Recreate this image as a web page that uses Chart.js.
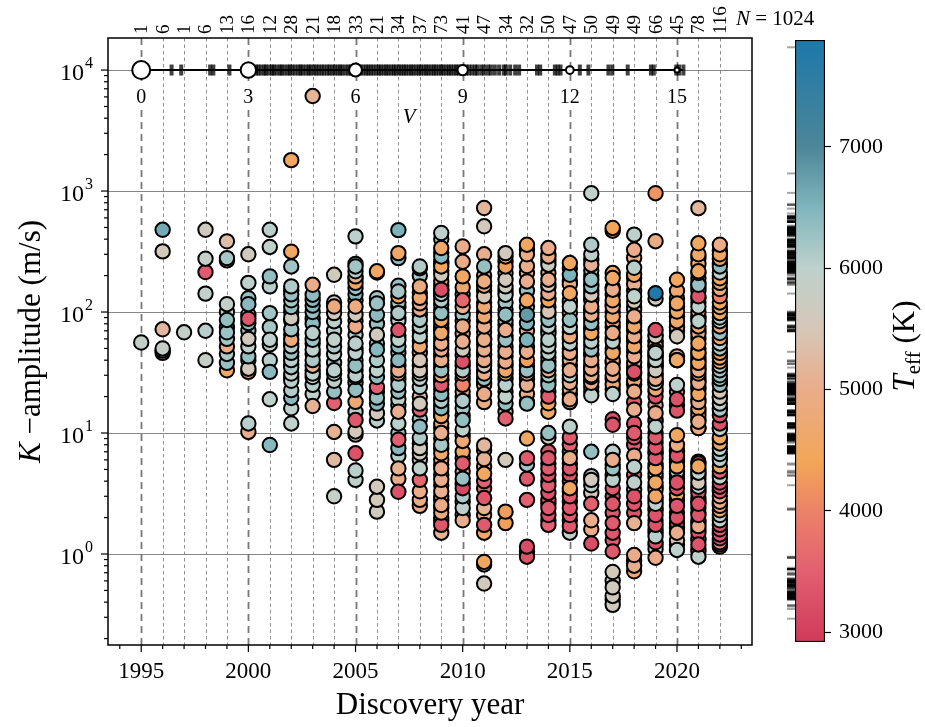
<!DOCTYPE html>
<html>
<head>
<meta charset="utf-8">
<script src="https://cdn.jsdelivr.net/npm/chart.js@4.4.0/dist/chart.umd.min.js"></script>
<style>
  html, body { margin: 0; padding: 0; background: #fff; }
  #wrap { position: relative; width: 925px; height: 727px; }
  #main { position: absolute; left: 0; top: 0; }
  #cbar { position: absolute; left: 760px; top: 0; }
</style>
</head>
<body>
<div id="wrap">
  <canvas id="main" width="925" height="727"></canvas>
  <canvas id="cbar" width="165" height="727"></canvas>
</div>
<script>
const SERIF = '"Liberation Serif", "DejaVu Serif", serif';

// Discovery years and planets per year (top axis counts)
const years = [1995, 1996, 1997, 1998, 1999, 2000, 2001, 2002, 2003, 2004, 2005, 2006, 2007, 2008,
               2009, 2010, 2011, 2012, 2013, 2014, 2015, 2016, 2017, 2018, 2019, 2020, 2021, 2022];
const topCounts = [1, 6, 1, 6, 13, 16, 12, 28, 21, 18, 33, 21, 34, 37, 73, 41, 47, 34, 32, 50, 47, 50, 49, 49, 66, 45, 78, 116];

// K-amplitude (m/s) per discovery year
const kByYear = [
  [56],
  [478, 317, 72, 50, 48, 46],
  [68],
  [478, 276, 214, 142, 70, 40],
  [384, 279, 267, 116, 86, 68, 60, 52, 45, 38, 33, 100, 75],
  [300, 174, 116, 88, 81, 60, 52, 43, 34, 32, 12, 10.2, 70, 95, 40, 130],
  [478, 345, 197, 163, 98, 59, 54, 32, 19, 7.96, 75, 40],
  [1800, 315, 238, 163, 140, 125, 110, 89, 72, 59, 52, 46, 40, 35, 31, 27, 22.6, 19.5, 16, 12, 100, 65, 55, 43, 37, 150, 85, 29],
  [6100, 168, 139, 126, 113, 67, 59, 49, 40, 36, 31, 29, 25, 16.7, 100, 80, 55, 45, 33, 21, 88],
  [203, 111, 98, 84, 59, 52, 33, 31, 27, 22, 17.7, 10.2, 6, 3, 70, 45, 38, 120],
  [422, 238, 217, 197, 174, 158, 111, 95, 76, 55, 46, 36, 30, 29, 22.7, 18.1, 12.8, 10.3, 9.7, 6.8, 4.9, 4.1, 250, 140, 125, 85, 65, 50, 40, 33, 26, 15, 190],
  [217, 212, 118, 95, 65, 49, 40, 33, 29, 24, 19.6, 17.5, 14.6, 12.7, 3.6, 2.8, 2.24, 130, 80, 55, 22],
  [475, 307, 279, 148, 135, 98, 71, 59, 52, 40, 33, 31, 25, 15, 12, 8.8, 7.5, 5.1, 3.27, 165, 120, 110, 85, 64, 46, 36, 28, 22, 19, 17, 10, 6.5, 4.2, 90],
  [238, 230, 163, 131, 118, 105, 86, 76, 63, 52, 40, 33, 31, 28, 17.5, 15.6, 11.3, 9.1, 7.5, 6.8, 5.1, 4.1, 3.3, 2.8, 200, 145, 95, 70, 58, 46, 36, 24, 20, 13, 8.2, 6, 2.5],
  [450, 338, 288, 238, 203, 153, 141, 125, 98, 86, 67, 55, 49, 40, 33, 30, 25, 21, 18.4, 16, 13.8, 10, 8, 6.8, 5.1, 4.1, 3.3, 2.54, 2.2, 1.74,
   400, 310, 260, 220, 180, 165, 135, 115, 105, 92, 80, 74, 62, 58, 52, 45, 43, 37, 35, 28, 23, 19.5, 17, 15, 12, 11, 9, 7.4, 6, 5.5,
   4.5, 3.7, 3, 2.8, 2.4, 2, 1.9, 1.5, 250, 150, 70, 27, 14],
  [348, 197, 125, 76, 57, 49, 39, 33, 31, 25, 18.4, 12.8, 10.7, 8.6, 5.6, 4.2, 3.5, 3.0, 2.4, 1.9, 260, 160, 110, 95, 85, 66, 44, 36, 28, 22, 16, 14, 9.5, 7, 6.2, 4.8, 3.8, 2.7, 2.1, 140, 20],
  [724, 511, 238, 179, 165, 135, 111, 92, 76, 59, 49, 40, 36, 31, 21, 7.9, 6.1, 4.6, 4.0, 2.9, 2.4, 1.74, 0.86, 0.82, 0.57, 200, 150, 120, 100, 84, 68, 54, 44, 33, 28, 25, 18, 45, 38, 26, 7.2, 5.3, 3.5, 2.1, 1.5, 300, 60],
  [307, 288, 238, 185, 163, 139, 95, 71, 59, 47, 39, 33, 31, 25, 20, 17.5, 13.2, 6.0, 2.24, 1.8, 260, 210, 150, 120, 105, 85, 78, 64, 52, 43, 36, 28, 22, 15],
  [360, 300, 179, 125, 95, 81, 59, 47, 40, 33, 31, 25, 17.5, 9, 6.2, 5.5, 4.2, 2.8, 1.15, 0.95, 330, 240, 210, 150, 110, 70, 52, 36, 28, 21, 18, 1.05],
  [338, 288, 246, 185, 168, 143, 125, 101, 86, 76, 59, 52, 46, 36, 33, 30, 25, 20, 17.6, 15, 10, 9.2, 6.2, 5.1, 4.5, 3.7, 3.2, 2.4, 2.1, 1.74,
   300, 210, 160, 110, 95, 66, 55, 42, 39, 27, 22, 7, 5.6, 4, 2.8, 2.6, 1.9, 265, 130, 70],
  [254, 203, 143, 111, 86, 75, 63, 55, 46, 33, 30, 26, 19, 11.3, 9.2, 6.2, 5.1, 3.5, 3.0, 2.4, 2.1, 1.7, 1.5, 230, 170, 125, 98, 68, 50, 40, 36, 23, 18, 8, 7, 4.5, 4, 2.7, 1.9, 180, 120, 60, 43, 28, 21, 5.6, 3.3],
  [960, 360, 300, 246, 185, 163, 139, 111, 95, 81, 67, 57, 49, 40, 34, 30, 29, 26, 20.5, 7, 4.1, 3.7, 2.6, 1.9, 1.22, 270, 220, 200, 150, 125, 105, 88, 75, 62, 53, 45, 37, 32, 24, 22, 170, 130, 100, 72, 44, 35, 27, 3.2, 1.6, 4.4],
  [495, 191, 153, 125, 111, 92, 67, 57, 46, 34, 30, 21, 11.7, 6, 5.1, 4.1, 3.5, 2.6, 1.8, 1.5, 1.05, 0.71, 0.53, 0.45, 0.38, 470, 160, 140, 100, 82, 75, 60, 50, 40, 25, 23, 13, 7, 5.5, 4.5, 3.0, 2.2, 1.3, 0.6, 0.42, 210, 115, 38, 28],
  [436, 327, 232, 203, 135, 122, 92, 76, 63, 52, 43, 32, 31, 22, 15.6, 10, 9.2, 5.25, 3.9, 3.0, 2.6, 1.8, 0.98, 0.8, 0.72, 280, 170, 150, 105, 85, 70, 57, 47, 38, 27, 18, 12, 6.5, 4.5, 3.4, 2.2, 190, 110, 80, 60, 35, 25, 8, 0.88],
  [960, 385, 143, 129, 71, 63, 46, 40, 33, 28, 26, 14.6, 11.3, 9.2, 7.6, 6.2, 5.1, 3.9, 3.0, 2.6, 2.1, 1.74, 1.4, 0.93, 48, 53, 44, 38, 31, 36,
   57, 58, 52, 44, 37, 30, 23, 20, 17, 12.5, 10, 8.3, 6.8, 5.6, 4.6, 4.3, 3.4, 2.8, 2.3, 1.9, 1.6, 1.25, 1.1, 65, 42, 35, 27, 13, 7, 5.3, 3.6, 2.4, 1.5, 1.2, 25, 22],
  [185, 118, 101, 84, 63, 40, 25, 19, 15.3, 9.6, 8, 6.5, 5.3, 3.9, 2.5, 2.0, 1.5, 1.08, 1.3, 150, 130, 92, 75, 75, 92, 40, 4.8, 22, 17, 7, 6, 7.2, 5.8, 4.6, 3.5, 3.1, 2.8, 2.2, 1.8, 1.65, 1.2, 110, 70, 43, 4.2],
  [722, 370, 217, 210, 168, 135, 111, 84, 55, 46, 38, 33, 31, 26, 21, 18, 12.4, 5.3, 4.7, 3.9, 3.6, 2.6, 2.1, 1.7, 1.2, 0.95, 300, 250, 190, 150,
   120, 100, 92, 76, 66, 60, 50, 42, 36, 29, 24, 16, 14, 11, 13, 5.6, 5.8, 4.2, 3.2, 2.9, 2.4, 1.9, 1.5, 1.35, 1.05, 280, 160, 130, 70, 45,
   34, 27, 19, 11, 15, 4.5, 5, 3.4, 2.2, 1.8, 1.3, 1.1, 175, 88, 40, 23, 2.7, 1.6],
  [360, 300, 275, 238, 212, 190, 174, 155, 135, 120, 110, 98, 90, 84, 76, 67, 61, 55, 50, 46, 42, 39, 36, 33, 30, 28, 25, 22, 19.5, 17.5,
   15.6, 14, 12, 10.8, 9.2, 8.2, 7.4, 6.7, 6, 5.3, 4.8, 4.3, 3.9, 3.6, 3.3, 3.0, 2.7, 2.5, 2.3, 2.1, 1.9, 1.74, 1.6, 1.45, 1.35, 1.25, 1.2, 1.15,
   320, 250, 200, 145, 105, 80, 58, 44, 34, 26, 20, 16, 11, 8.8, 6.4, 4.5, 3.4, 2.6, 2.0, 1.5, 1.3, 70]
];

// Host star effective temperature (K), same order as kByYear
const teffByYear = [
  [5920],
  [6620, 5580, 5230, 5870, 5950, 5900],
  [5910],
  [5620, 5880, 3420, 5940, 6030, 5860],
  [5310, 6180, 6120, 5890, 6330, 6270, 6210, 4920, 6150, 6290, 4610, 6020, 6240],
  [5640, 6010, 6420, 3380, 6380, 5590, 5990, 6310, 5570, 4720, 6040, 5020, 6260, 5970, 5610, 6330],
  [6020, 5960, 6340, 6050, 6230, 5990, 6010, 6410, 5980, 6430, 6190, 6060],
  [4480, 4520, 6230, 6120, 6310, 6180, 6340, 5620, 6210, 4810, 6090, 6280, 6030, 6170, 5960, 6040, 6110, 6420, 5990, 6010, 5580, 6330, 6020, 6130, 6290, 5910, 6050, 6190],
  [5130, 5010, 6380, 6420, 6450, 6030, 6270, 5990, 6140, 5090, 6010, 5970, 6060, 5120, 6310, 6390, 6220, 6330, 6080, 6000, 6040],
  [5630, 4830, 5570, 6020, 5980, 6130, 6040, 5990, 6010, 6320, 3480, 5110, 5240, 5880, 6050, 5910, 6210, 5520],
  [6010, 6230, 6090, 5120, 4510, 6290, 4880, 5610, 4930, 6030, 5990, 6320, 6040, 6280, 6350, 4720, 3380, 5530, 5490, 3290, 6020, 5970, 6310, 6410, 5920, 6330, 6010, 6140, 5880, 6230, 6270, 6050, 5040],
  [4490, 6420, 6280, 6390, 5620, 6430, 6120, 5980, 6380, 3520, 6310, 6410, 5590, 6030, 5610, 5580, 5640, 6180, 6290, 6130, 5990],
  [6530, 4620, 6410, 6190, 4480, 6120, 3310, 5990, 6380, 6420, 5010, 4980, 6130, 5030, 6020, 3490, 6430, 5110, 3280, 6290, 6210, 6390, 5960, 6320, 6080, 6230, 6010, 6310, 5970, 6170, 6270, 6040, 4990, 6330],
  [6110, 6410, 4890, 4620, 5010, 4970, 6130, 6080, 6010, 4720, 5480, 5520, 5610, 6030, 5570, 3520, 6380, 6120, 5630, 5590, 5980, 3610, 5020, 4910, 6190, 5040, 6310, 5990, 6220, 5110, 4960, 6050, 5210, 6140, 5030, 6080, 4980],
  [6010, 4620, 6420, 4490, 5610, 3220, 6110, 6080, 6330, 4580, 4630, 5030, 4980, 5010, 6290, 4610, 3410, 6380, 6120, 6410, 4590, 5040, 6180, 4640, 4990, 5020, 5060, 4970, 4920, 3380,
   6130, 5010, 6310, 5120, 4570, 6090, 4960, 6340, 5520, 6220, 4910, 6280, 5030, 6140, 4690, 6330, 4990, 6190, 4930, 5480, 6240, 5020, 4710, 6270, 4980, 6020, 4790, 6320, 5050, 4560,
   6210, 4970, 4890, 6110, 5040, 5010, 4820, 5130, 6290, 4680, 4940, 6060, 5070],
  [5020, 4490, 3620, 4980, 5040, 5610, 3280, 6090, 4960, 4010, 6120, 6330, 5980, 4720, 3420, 6290, 3110, 6130, 6010, 5030, 4970, 4620, 5060, 6220, 4680, 4990, 6280, 5010, 6030, 5120, 6190, 4950, 5990, 4590, 6310, 5040, 6120, 4880, 6040, 6090, 4810],
  [5180, 5590, 6320, 4910, 5030, 5480, 4710, 4690, 4990, 5020, 5040, 4970, 5520, 5010, 4980, 5230, 5090, 4520, 3520, 3380, 5120, 3410, 4480, 5030, 5610, 4960, 6190, 5020, 4810, 5110, 6110, 4990, 4720, 5040, 6290, 4970, 4890, 6020, 5010, 5090, 4780, 5030, 3620, 4960, 4610, 5050, 6230],
  [5610, 4880, 4310, 5590, 5620, 6010, 6330, 4990, 6280, 5030, 4970, 4620, 4510, 6040, 5980, 6310, 3520, 5580, 4290, 4330, 5010, 6030, 4920, 6190, 5040, 6280, 4830, 5990, 4910, 6220, 4980, 6120, 6310, 6010],
  [4510, 4880, 5020, 4490, 6780, 6490, 6520, 5010, 4320, 6290, 4990, 5030, 6310, 4520, 3410, 6210, 3380, 3520, 3190, 3310, 4620, 4980, 4910, 6290, 6180, 5020, 6330, 4790, 6110, 5010, 6280, 3280],
  [5010, 4980, 5790, 5030, 5510, 4970, 4520, 5480, 6310, 5990, 6040, 5970, 6020, 6290, 5010, 6180, 6330, 3420, 4510, 4590, 6280, 5620, 3380, 3410, 3290, 3440, 3310, 3390, 3270, 3520,
   4630, 4910, 4990, 6120, 4810, 6090, 5020, 4880, 6210, 6320, 6190, 3310, 3480, 3420, 3280, 3610, 3370, 4920, 6230, 5040],
  [4490, 6520, 4530, 6010, 6290, 5980, 4810, 6030, 4990, 5020, 5980, 5040, 4960, 6020, 3420, 5010, 3380, 4480, 3410, 3350, 3440, 3390, 5910, 4620, 4980, 6190, 4710, 6310, 4910, 5030, 6120, 4970, 4880, 3520, 3410, 3290, 3510, 3380, 3470, 6380, 4590, 5020, 6230, 4790, 4990, 3530, 4520],
  [5990, 6120, 6010, 5090, 6310, 6280, 5480, 4990, 5030, 6320, 4510, 6020, 6290, 4980, 5010, 5040, 4970, 5020, 5990, 6330, 5590, 6040, 3520, 4990, 3210, 6180, 6290, 5010, 6110, 4810, 6320, 4990, 6130, 4690, 6010, 6190, 4980, 6030, 4880, 5030, 6390, 5110, 4710, 6090, 4960, 6210, 4820, 5510, 4980, 6120],
  [4380, 4610, 4990, 4590, 5020, 4620, 4980, 6010, 4580, 5010, 4970, 5990, 3310, 5020, 6280, 6030, 3410, 3380, 3420, 3360, 3390, 5580, 5620, 5590, 5610, 4290, 4690, 5030, 4610, 4980, 4810, 5020, 4590, 4990, 4710, 5040, 3280, 6010, 3320, 3430, 3290, 3340, 3410, 5570, 5630, 4680, 5010, 4820, 4970],
  [6010, 4990, 6030, 4390, 5980, 5510, 5020, 4590, 4980, 4620, 5010, 3280, 3330, 4990, 5040, 3420, 3380, 6020, 5970, 3290, 3340, 5110, 4980, 5020, 4690, 4910, 5030, 4610, 6110, 4790, 4990, 6180, 4880, 5010, 4620, 3410, 3310, 4970, 3390, 6040, 3270, 4820, 5990, 5020, 4910, 4990, 4710, 3430, 4790],
  [4210, 4890, 7820, 5610, 3220, 5590, 6010, 5980, 5620, 5010, 5580, 4990, 6020, 3410, 3380, 3420, 4510, 4480, 4530, 5990, 3310, 3290, 6030, 4990, 5020, 4710, 4490, 4910, 4590, 5010,
   6110, 4890, 3420, 6010, 5090, 3380, 4690, 3310, 4980, 3440, 3270, 4620, 3390, 3320, 5980, 3410, 4530, 3280, 3360, 6020, 3430, 3310, 5990, 4610, 4990, 3330, 6040, 3390, 3420, 4480, 3290, 6010, 3370, 5020, 4520, 4970],
  [4490, 4610, 4580, 4630, 5610, 4590, 5990, 3290, 3320, 4510, 4990, 3310, 4480, 3280, 3330, 3270, 5010, 5990, 5490, 4710, 4590, 4520, 4790, 4610, 4690, 4910, 6080, 4620, 3410, 3290, 4530, 3380, 4610, 3320, 3290, 4490, 3420, 3310, 3380, 4990, 3390, 4630, 4470, 4880, 3300],
  [5210, 4490, 4520, 6010, 6290, 3310, 5990, 6020, 4510, 4480, 4530, 4990, 4470, 5020, 4510, 4980, 5010, 4490, 5990, 5510, 6030, 3290, 3330, 4990, 3310, 5980, 4610, 4890, 4590, 6210,
   4990, 4710, 6080, 4520, 5010, 4590, 4820, 4980, 6190, 4610, 5020, 4580, 4970, 4910, 4690, 3420, 3290, 5010, 3320, 6010, 3380, 4790, 3310, 6020, 3410, 4920, 4610, 4990, 6310, 4720,
   5010, 4630, 4790, 4990, 4520, 5030, 3430, 5990, 3290, 3370, 6040, 3310, 4490, 6220, 4590, 4980, 5490, 3390],
  [4990, 4510, 4490, 6380, 6010, 4590, 4520, 4810, 4010, 4480, 4610, 4530, 6090, 5990, 4710, 6290, 4510, 6010, 6190, 4490, 4620, 4980, 6030, 6210, 6320, 6280, 6340, 5490, 5610, 5990,
   6180, 3310, 3280, 6020, 4520, 4590, 5980, 6110, 6030, 4490, 3520, 5990, 3290, 3330, 3410, 5010, 4990, 4510, 4530, 6010, 5970, 3290, 3420, 3310, 3280, 4020, 3390, 4980,
   4610, 4690, 6210, 4790, 6310, 4580, 6190, 4510, 6090, 5020, 6290, 5990, 3380, 4620, 3270, 4710, 3410, 4810, 3320, 6120, 3360, 6020]
];

// V magnitude inset: reference marks and rug of host star magnitudes
const vTicks = [0, 3, 6, 9, 12, 15];
const vRug = [0.85, 1.12, 1.93, 2.02, 2.47, 3.22, 3.28, 3.36, 3.45, 3.49, 3.58, 3.66, 3.71, 3.79, 3.88, 3.93, 4.01, 4.1, 4.16, 4.23,
  4.31, 4.4, 4.46, 4.52, 4.61, 4.69, 4.74, 4.83, 4.9, 4.97, 5.05, 5.12, 5.21, 5.27, 5.35, 5.42, 5.5, 5.57, 5.63, 5.72,
  5.8, 5.86, 5.93, 6.01, 6.08, 6.14, 6.22, 6.3, 6.36, 6.43, 6.5, 6.58, 6.65, 6.71, 6.79, 6.86, 6.92, 7.0, 7.07, 7.13,
  7.21, 7.28, 7.35, 7.41, 7.49, 7.56, 7.62, 7.7, 7.77, 7.83, 7.91, 7.98, 8.04, 8.12, 8.19, 8.25, 8.33, 8.4, 8.46, 8.54,
  8.61, 8.67, 8.75, 8.82, 8.88, 8.96, 9.03, 9.1, 9.17, 9.26, 9.35, 9.41, 9.52, 9.6, 9.71, 9.79, 9.9, 10.02, 10.15, 10.21,
  10.33, 10.47, 10.58, 11.08, 11.17, 11.58, 11.66, 11.74, 12.28, 12.52, 13.08, 13.19, 13.62, 14.27, 14.35, 14.98, 15.06, 15.18];

// colour bar range and ticks
const cbRange = [2918, 7880];
const cbTicks = [3000, 4000, 5000, 6000, 7000];

// colormap stops (Teff -> rgb)
const cmapStops = [
  [2900, [208, 58, 90]],
  [3500, [226, 96, 112]],
  [4000, [236, 130, 104]],
  [4400, [242, 166, 88]],
  [5000, [234, 172, 138]],
  [5500, [214, 199, 184]],
  [6000, [190, 209, 204]],
  [6500, [127, 181, 188]],
  [7000, [77, 134, 152]],
  [7900, [28, 120, 170]]
];

function teffColor(t) {
  if (t <= cmapStops[0][0]) return 'rgb(' + cmapStops[0][1].join(',') + ')';
  for (let i = 1; i < cmapStops.length; i++) {
    const [t1, c1] = cmapStops[i];
    if (t <= t1) {
      const [t0, c0] = cmapStops[i - 1];
      const f = (t - t0) / (t1 - t0);
      const c = c0.map((v, k) => Math.round(v + f * (c1[k] - v)));
      return 'rgb(' + c.join(',') + ')';
    }
  }
  return 'rgb(' + cmapStops[cmapStops.length - 1][1].join(',') + ')';
}

const vToYear = v => 1995 + v * 5 / 3;   // V axis of the inset shares the year axis

function isDecade(v) {
  const l = Math.log10(v);
  return Math.abs(l - Math.round(l)) < 1e-6;
}

function logTicks(min, max) {
  const out = [];
  for (let e = Math.floor(Math.log10(min)); e <= Math.ceil(Math.log10(max)); e++) {
    for (let m = 1; m <= 9; m++) {
      const v = m * Math.pow(10, e);
      if (v >= min && v <= max) out.push({ value: v, major: m === 1 });
    }
  }
  return out;
}

// flatten the points, later list entries drawn first
const starPoints = [];
const starColors = [];
years.forEach((yr, i) => {
  const ks = kByYear[i], ts = teffByYear[i];
  const n = Math.min(ks.length, ts.length);
  for (let j = n - 1; j >= 0; j--) {
    starPoints.push({ x: yr, y: ks[j] });
    starColors.push(teffColor(ts[j]));
  }
});

function drawRuns(ctx, runs, x, y, rot) {
  ctx.save();
  ctx.translate(x, y);
  if (rot) ctx.rotate(rot);
  let total = 0;
  runs.forEach(r => { ctx.font = r.font; r.w = ctx.measureText(r.text).width; total += r.w; });
  let cx = -total / 2;
  ctx.textAlign = 'left';
  ctx.textBaseline = 'alphabetic';
  ctx.fillStyle = '#000';
  runs.forEach(r => { ctx.font = r.font; ctx.fillText(r.text, cx, r.dy || 0); cx += r.w; });
  ctx.restore();
}

const decor = {
  id: 'decor',
  beforeDatasetsDraw(chart) {
    const { ctx, chartArea: a, scales: { x } } = chart;
    ctx.save();
    years.forEach(yr => {
      const px = Math.round(x.getPixelForValue(yr)) + 0.5;
      const major = yr % 5 === 0;
      ctx.beginPath();
      ctx.setLineDash(major ? [7, 5] : [3.5, 3]);
      ctx.lineWidth = major ? 1.8 : 0.9;
      ctx.strokeStyle = major ? 'rgba(105,105,105,0.9)' : 'rgba(110,110,110,0.85)';
      ctx.moveTo(px, a.top);
      ctx.lineTo(px, a.bottom);
      ctx.stroke();
    });
    ctx.restore();
  },
  afterDatasetsDraw(chart) {
    const { ctx, scales: { x, y } } = chart;
    const py = y.getPixelForValue(1e4);
    ctx.save();
    ctx.textAlign = 'center';
    ctx.textBaseline = 'alphabetic';
    ctx.font = '20px ' + SERIF;
    vTicks.forEach(v => {
      const px = x.getPixelForValue(vToYear(v));
      const txt = String(v);
      const w = ctx.measureText(txt).width;
      ctx.fillStyle = '#fff';
      ctx.fillRect(px - w / 2 - 3, py + 15, w + 6, 21);
      ctx.fillStyle = '#000';
      ctx.fillText(txt, px, py + 33);
    });
    ctx.font = 'italic 21px ' + SERIF;
    const vx = x.getPixelForValue(vToYear(7.5));
    const vw = ctx.measureText('V').width;
    ctx.fillStyle = '#fff';
    ctx.fillRect(vx - vw / 2 - 3, py + 36, vw + 6, 20);
    ctx.fillStyle = '#000';
    ctx.fillText('V', vx, py + 53);
    ctx.restore();
  },
  afterDraw(chart) {
    const { ctx, chartArea: a, scales: { x, y } } = chart;
    ctx.save();
    // frame
    ctx.strokeStyle = '#000';
    ctx.lineWidth = 1.5;
    ctx.strokeRect(a.left, a.top, a.right - a.left, a.bottom - a.top);
    // y ticks
    ctx.lineWidth = 1.2;
    y.ticks.forEach(t => {
      const p = y.getPixelForValue(t.value);
      const len = isDecade(t.value) ? 7 : 4;
      ctx.beginPath();
      ctx.moveTo(a.left - len, p);
      ctx.lineTo(a.left, p);
      ctx.stroke();
    });
    // x ticks, every year
    for (let yr = Math.ceil(x.min); yr <= Math.floor(x.max); yr++) {
      const p = x.getPixelForValue(yr);
      const len = yr % 5 === 0 ? 7 : 4;
      ctx.beginPath();
      ctx.moveTo(p, a.bottom);
      ctx.lineTo(p, a.bottom + len);
      ctx.stroke();
    }
    // y labels 10^n
    ctx.fillStyle = '#000';
    ctx.textBaseline = 'alphabetic';
    ctx.textAlign = 'left';
    y.ticks.filter(t => isDecade(t.value)).forEach(t => {
      const p = y.getPixelForValue(t.value);
      const ex = String(Math.round(Math.log10(t.value)));
      ctx.font = '16px ' + SERIF;
      const w2 = ctx.measureText(ex).width;
      ctx.font = '24px ' + SERIF;
      const w1 = ctx.measureText('10').width;
      const right = 93;
      ctx.fillText('10', right - w2 - 1 - w1, p + 10);
      ctx.font = '16px ' + SERIF;
      ctx.fillText(ex, right - w2, p - 2);
    });
    // x labels
    ctx.font = '23px ' + SERIF;
    ctx.textAlign = 'center';
    years.filter(yr => yr % 5 === 0).forEach(yr => {
      ctx.fillText(String(yr), x.getPixelForValue(yr), a.bottom + 33);
    });
    // counts on top
    ctx.font = '19px ' + SERIF;
    ctx.textAlign = 'left';
    ctx.textBaseline = 'middle';
    years.forEach((yr, i) => {
      ctx.save();
      ctx.translate(x.getPixelForValue(yr) + 1, a.top - 4);
      ctx.rotate(-Math.PI / 2);
      ctx.fillText(String(topCounts[i]), 0, 0);
      ctx.restore();
    });
    ctx.restore();
    const total = topCounts.reduce((s, v) => s + v, 0);
    ctx.save();
    ctx.textBaseline = 'alphabetic';
    ctx.textAlign = 'left';
    ctx.fillStyle = '#000';
    ctx.font = 'italic 21px ' + SERIF;
    ctx.fillText('N', 736, 25);
    const nw = ctx.measureText('N').width;
    ctx.font = '21px ' + SERIF;
    ctx.fillText(' = ' + total, 736 + nw, 25);
    ctx.restore();
    // axis titles
    drawRuns(ctx, [{ text: 'Discovery year', font: '31px ' + SERIF }], (a.left + a.right) / 2, 714, 0);
    drawRuns(ctx, [
      { text: 'K', font: 'italic 31px ' + SERIF },
      { text: ' \u2212amplitude (m/s)', font: '31px ' + SERIF }
    ], 40, (a.top + a.bottom) / 2, -Math.PI / 2);
  }
};

new Chart(document.getElementById('main'), {
  type: 'scatter',
  data: {
    datasets: [
      {
        label: 'planets',
        data: starPoints,
        pointBackgroundColor: starColors,
        pointBorderColor: '#000',
        pointBorderWidth: 2,
        pointRadius: 7.2,
        pointHoverRadius: 7.2,
        order: 3
      },
      {
        type: 'line',
        label: 'V axis',
        data: [{ x: vToYear(0), y: 1e4 }, { x: vToYear(Math.max(...vRug)), y: 1e4 }],
        borderColor: '#000',
        borderWidth: 2,
        pointRadius: 0,
        order: 2
      },
      {
        label: 'V rug',
        data: vRug.map(v => ({ x: vToYear(v), y: 1e4 })),
        pointStyle: 'line',
        pointRotation: 90,
        pointRadius: 5.5,
        pointBorderColor: 'rgba(0,0,0,0.75)',
        pointBorderWidth: 4,
        order: 1
      },
      {
        label: 'V reference',
        data: vTicks.map(v => ({ x: vToYear(v), y: 1e4 })),
        pointRadius: c => 9 - 0.43 * vTicks[c.dataIndex],
        pointBackgroundColor: '#fff',
        pointBorderColor: '#000',
        pointBorderWidth: 2,
        order: 0
      }
    ]
  },
  options: {
    responsive: false,
    animation: false,
    events: [],
    layout: { padding: { left: 0, right: 173, top: 38, bottom: 0 } },
    plugins: { legend: { display: false }, tooltip: { enabled: false } },
    scales: {
      x: {
        type: 'linear', min: 1993.45, max: 2023.5,
        ticks: { display: false },
        grid: { display: false },
        border: { display: false },
        afterFit: s => { s.height = 82; }
      },
      y: {
        type: 'logarithmic', min: 0.177, max: 18400,
        afterBuildTicks: s => { s.ticks = logTicks(s.min, s.max); },
        ticks: { display: false },
        grid: {
          drawTicks: false,
          lineWidth: 1,
          color: c => (c.tick && isDecade(c.tick.value)) ? 'rgba(128,128,128,0.95)' : 'rgba(0,0,0,0)'
        },
        border: { display: false },
        afterFit: s => { s.width = 108; }
      }
    }
  },
  plugins: [decor]
});

// colour bar
const allTeff = teffByYear.flat();

const cbarDecor = {
  id: 'cbarDecor',
  afterDatasetsDraw(chart) {
    const { ctx, chartArea: a, scales: { y } } = chart;
    ctx.save();
    ctx.strokeStyle = 'rgba(0,0,0,0.35)';
    ctx.lineWidth = 2;
    allTeff.forEach(t => {
      const p = y.getPixelForValue(t);
      ctx.beginPath();
      ctx.moveTo(a.left - 8, p);
      ctx.lineTo(a.left + 1, p);
      ctx.stroke();
    });
    ctx.restore();
    drawRuns(ctx, [
      { text: 'T', font: 'italic 31px ' + SERIF },
      { text: 'eff', font: '21px ' + SERIF, dy: 6 },
      { text: ' (K)', font: '31px ' + SERIF }
    ], 154, 346, -Math.PI / 2);
  }
};

new Chart(document.getElementById('cbar'), {
  type: 'bar',
  data: {
    labels: ['Teff'],
    datasets: [{
      data: [cbRange],
      backgroundColor: c => {
        const { ctx, chartArea, scales } = c.chart;
        if (!chartArea || !scales.y) return '#ccc';
        const y0 = scales.y.getPixelForValue(cbRange[0]);
        const y1 = scales.y.getPixelForValue(cbRange[1]);
        const g = ctx.createLinearGradient(0, y0, 0, y1);
        cmapStops.forEach(([t, rgb]) => {
          const f = Math.min(1, Math.max(0, (t - cbRange[0]) / (cbRange[1] - cbRange[0])));
          g.addColorStop(f, 'rgb(' + rgb.join(',') + ')');
        });
        return g;
      },
      borderColor: '#000',
      borderWidth: 1.5,
      borderSkipped: false,
      barPercentage: 1,
      categoryPercentage: 1
    }]
  },
  options: {
    responsive: false,
    animation: false,
    events: [],
    layout: { padding: { left: 35, top: 40, bottom: 85, right: 0 } },
    plugins: { legend: { display: false }, tooltip: { enabled: false } },
    scales: {
      x: { display: false },
      y: {
        position: 'right', min: cbRange[0], max: cbRange[1],
        afterBuildTicks: s => { s.ticks = cbTicks.map(v => ({ value: v })); },
        ticks: { font: { family: SERIF, size: 22 }, color: '#000', padding: 8, callback: v => String(v) },
        grid: { drawOnChartArea: false, tickLength: 6, tickColor: '#000', tickWidth: 1.2 },
        border: { display: false },
        afterFit: s => { s.width = 100; }
      }
    }
  },
  plugins: [cbarDecor]
});
</script>
</body>
</html>
